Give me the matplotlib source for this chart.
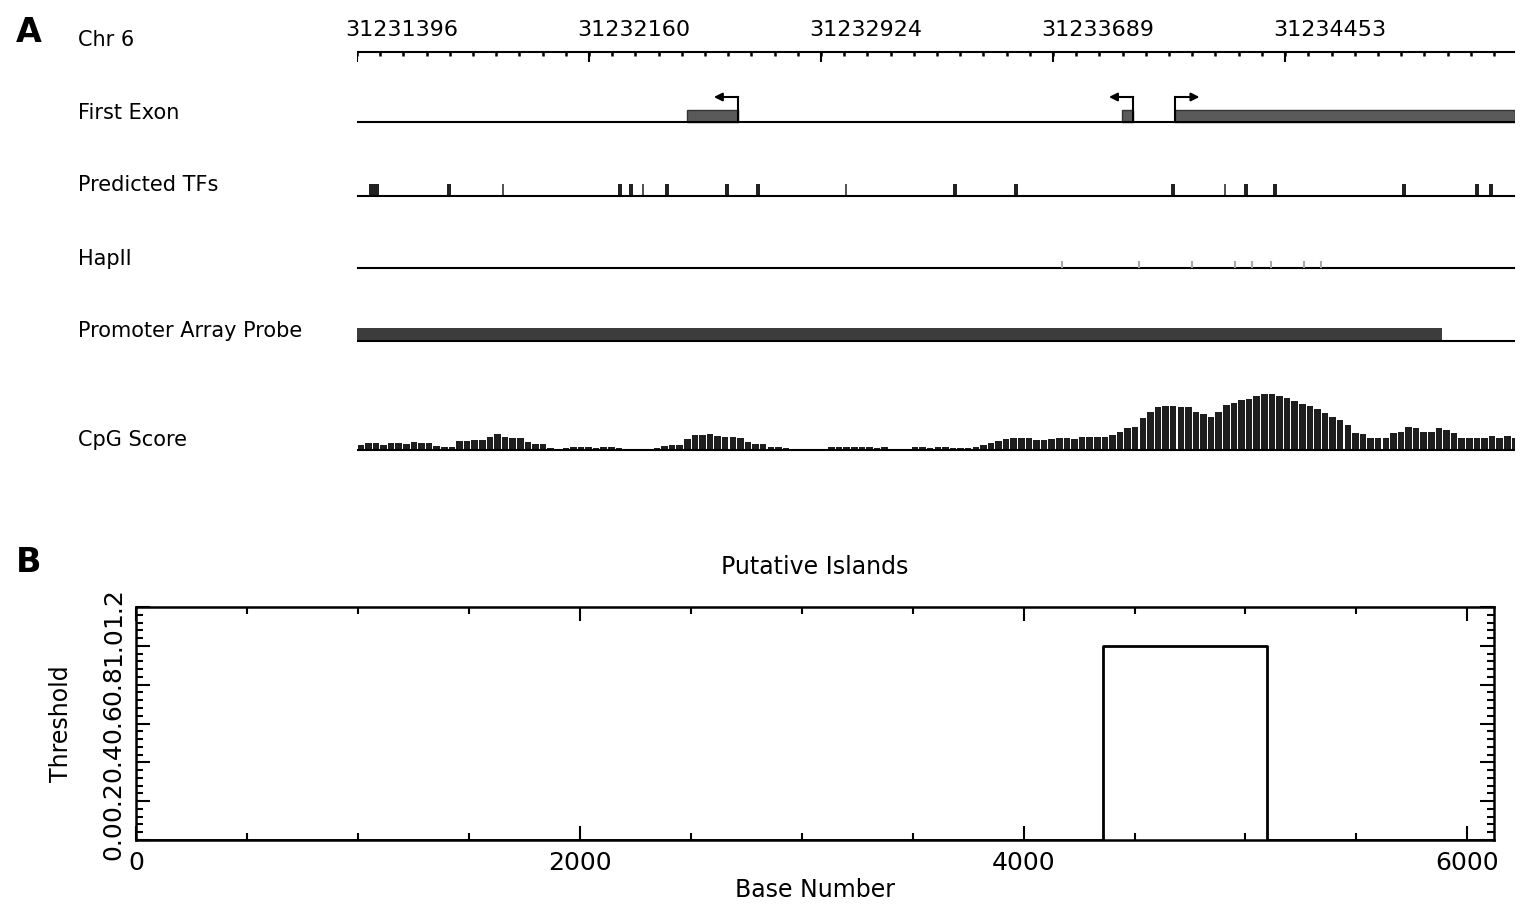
import numpy as np
import matplotlib.pyplot as plt
from matplotlib.patches import Rectangle
from matplotlib.ticker import MultipleLocator, FixedLocator

# ---- panel A data (genomic coordinates on chr 6) ----
region_start = 31231396
region_end = 31235209
ruler_labels = [31231396, 31232160, 31232924, 31233689, 31234453]

# first exons: (start, end, strand)
exon_starts = [31232483, 31233915, 31234090]
exon_ends = [31232651, 31233952, 31235209]
exon_strands = ["-", "-", "+"]

# predicted TF binding sites and their widths (bp)
tf_sites = [31231452, 31231699, 31231877, 31232262, 31232299, 31232338, 31232417,
            31232615, 31232717, 31233007, 31233366, 31233567, 31234084, 31234255,
            31234324, 31234420, 31234842, 31235085, 31235131]
tf_widths = [36, 13, 7, 13, 13, 7, 13, 13, 13, 7, 13, 13, 13, 7, 13, 13, 13, 13, 13]

hapii_sites = [31233718, 31233972, 31234146, 31234288, 31234344, 31234407,
               31234515, 31234571]

probe_start = 31231396
probe_end = 31234970

# CpG score in 25 bp windows from region_start
cpg_step = 25
cpg_score = [5, 7, 7, 5, 7, 7, 6, 8, 7, 7, 4, 3, 3, 9, 9, 10, 10, 13, 16, 13,
             12, 12, 8, 6, 6, 2, 0, 2, 3, 3, 3, 2, 3, 3, 2, 1, 1, 1, 1, 2,
             4, 5, 5, 11, 15, 15, 16, 14, 13, 13, 12, 8, 6, 6, 3, 3, 2, 1, 1, 1,
             1, 1, 3, 3, 3, 3, 3, 3, 2, 3, 1, 1, 1, 3, 3, 2, 3, 3, 2, 2,
             2, 3, 5, 7, 9, 11, 12, 12, 12, 10, 10, 11, 12, 12, 11, 13, 13, 13, 13, 15,
             18, 22, 23, 32, 38, 43, 44, 44, 43, 43, 38, 36, 33, 38, 45, 47, 50, 51, 54, 56,
             56, 54, 52, 49, 46, 44, 41, 37, 33, 30, 25, 17, 16, 12, 12, 12, 17, 18, 23, 22,
             18, 18, 22, 20, 17, 12, 12, 12, 12, 14, 12, 14, 12]

# ---- panel B data ----
base_number = [0, 4360, 4360, 5095, 5095, 6120]
threshold = [0, 0, 1, 1, 0, 0]

W, H = 1535, 916
fig = plt.figure(figsize=(W / 100, H / 100), dpi=100)


def fx(px):
    return px / W


def fy(py):
    return 1 - py / H


# track baselines in pixel rows
rows = {"ruler": 52, "exon": 122, "tf": 196, "hap": 268, "probe": 341, "cpg": 450}

ax = fig.add_axes([fx(357), fy(470), (1515 - 357) / W, 470 / H])
ax.set_xlim(region_start, region_end)
ax.set_ylim(470, 0)
ax.axis("off")

# ruler
y = rows["ruler"]
ax.plot([region_start, region_end], [y, y], color="k", lw=1.5)
step = ruler_labels[1] - ruler_labels[0]
minor = np.arange(region_start, region_end, step / 10)
ax.vlines(minor, y, y + 4, color="k", lw=1.8)
ax.vlines(ruler_labels, y, y + 10, color="k", lw=1.5)
for lab in ruler_labels:
    ax.text(lab - 40, 30, str(lab), fontsize=16, ha="left", va="center")

# first exon track
y = rows["exon"]
ax.plot([region_start, region_end], [y, y], color="k", lw=1.5)
for s, e, strand in zip(exon_starts, exon_ends, exon_strands):
    ax.add_patch(Rectangle((s, y), e - s, -12, facecolor="#5a5a5a", edgecolor="#333333", lw=1))
    tss = e if strand == "-" else s
    ax.plot([tss, tss], [y, y - 25], color="k", lw=1.5)
    tip = tss - 80 if strand == "-" else tss + 80
    ax.annotate("", xy=(tip, y - 25), xytext=(tss, y - 25),
                arrowprops=dict(arrowstyle="-|>", color="k", lw=1.5, mutation_scale=12,
                                shrinkA=0, shrinkB=0))

# predicted TFs
y = rows["tf"]
ax.plot([region_start, region_end], [y, y], color="k", lw=1.5)
for pos, w in zip(tf_sites, tf_widths):
    col = "#222222" if w > 7 else "#555555"
    ax.add_patch(Rectangle((pos - w / 2, y), w, -12, facecolor=col, edgecolor="none"))

# HapII
y = rows["hap"]
ax.plot([region_start, region_end], [y, y], color="k", lw=1.5)
ax.vlines(hapii_sites, y - 7, y, color="#a8a8a8", lw=1.5)

# promoter array probe
y = rows["probe"]
ax.plot([region_start, region_end], [y, y], color="k", lw=1.5)
ax.add_patch(Rectangle((probe_start, y), probe_end - probe_start, -13,
                       facecolor="#3c3c3c", edgecolor="none"))

# CpG score
y = rows["cpg"]
ax.plot([region_start, region_end], [y, y], color="k", lw=1.5)
cpg_x = region_start + cpg_step * (np.arange(len(cpg_score)) + 0.5)
ax.bar(cpg_x, -np.array(cpg_score), width=cpg_step * 0.86, bottom=y,
       color="#1e1e1e", edgecolor="none")

# track labels
track_labels = ["Chr 6", "First Exon", "Predicted TFs", "HapII",
                "Promoter Array Probe", "CpG Score"]
label_rows = [40, 113, 185, 259, 331, 440]
for lab, r in zip(track_labels, label_rows):
    fig.text(fx(78), fy(r), lab, fontsize=15, ha="left", va="center")

fig.text(fx(16), fy(33), "A", fontsize=24, fontweight="bold", ha="left", va="center")
fig.text(fx(16), fy(563), "B", fontsize=24, fontweight="bold", ha="left", va="center")

# ---- panel B ----
axb = fig.add_axes([fx(136), fy(840), (1494 - 136) / W, (840 - 607) / H])
axb.plot(base_number, threshold, color="k", lw=2)
axb.set_xlim(0, 6120)
axb.set_ylim(0, 1.2)
axb.xaxis.set_major_locator(FixedLocator([0, 2000, 4000, 6000]))
axb.xaxis.set_minor_locator(MultipleLocator(500))
axb.yaxis.set_major_locator(MultipleLocator(0.2))
axb.yaxis.set_minor_locator(MultipleLocator(0.04))
axb.tick_params(which="both", direction="in", top=True, right=True, width=1.5)
axb.tick_params(which="major", length=10, labelsize=18)
axb.tick_params(which="minor", length=5)
axb.tick_params(axis="x", pad=8)
axb.tick_params(axis="y", labelrotation=90, pad=8)
for lab in axb.get_yticklabels():
    lab.set_va("center")
for sp in axb.spines.values():
    sp.set_linewidth(1.8)
axb.set_title("Putative Islands", fontsize=17, pad=24)
axb.set_xlabel("Base Number", fontsize=17, labelpad=2)
axb.set_ylabel("Threshold", fontsize=17, labelpad=20)

fig.savefig("out.png", dpi=100)
